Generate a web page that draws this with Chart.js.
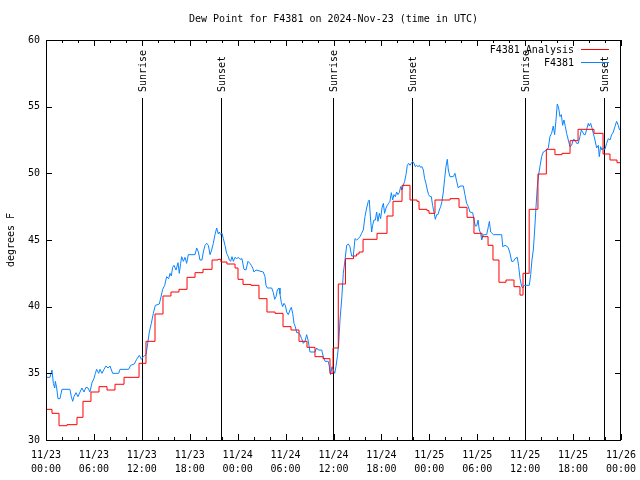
<!DOCTYPE html>
<html><head><meta charset="utf-8">
<script src="https://cdn.jsdelivr.net/npm/chart.js@4"></script>
<style>html,body{margin:0;padding:0;background:#fff}</style>
</head><body>
<canvas id="c" width="640" height="480"></canvas>
<script>
const titleText = 'Dew Point for F4381 on 2024-Nov-23 (time in UTC)';
const yAxisTitle = 'degrees F';
const seriesNames = ['F4381 Analysis', 'F4381'];
const xTickHours = [0, 6, 12, 18, 24, 30, 36, 42, 48, 54, 60, 66, 72];
const xTickDates = ['11/23','11/23','11/23','11/23','11/24','11/24','11/24','11/24','11/25','11/25','11/25','11/25','11/26'];
const xTickTimes = ['00:00','06:00','12:00','18:00','00:00','06:00','12:00','18:00','00:00','06:00','12:00','18:00','00:00'];
const yTickValues = [30, 35, 40, 45, 50, 55, 60];
const sunriseHours = [11.98, 35.98, 59.98];
const sunsetHours = [21.95, 45.87, 69.91];

// F4381 Analysis: [hours since 11/23 00:00 UTC, dew point F] (stepped)
const analysisPoints = [
[0,32.2],[0.75,32.3],[1.63,32.0],[2.63,31.07],[3.88,31.15],[4.63,31.7],[5.63,32.9],[6.64,33.6],[7.64,34.0],[8.64,33.75],
[9.77,34.18],[11.65,34.7],[12.52,35.75],[13.65,37.4],[14.65,39.45],[15.65,40.8],[16.65,41.1],[17.66,41.3],[18.66,42.2],[19.66,42.55],
[20.79,42.8],[21.54,43.5],[21.91,43.55],[22.66,43.35],[23.67,43.2],[24.04,42.9],[24.67,42.05],[25.67,41.67],[26.67,41.6],[27.67,40.6],
[28.68,39.6],[29.68,39.5],[30.68,38.5],[31.68,38.25],[32.68,37.4],[33.68,36.95],[34.69,36.25],[35.56,36.1],[35.94,35.0],[36.6,36.9],
[37.5,41.7],[38.5,43.6],[38.9,43.8],[39.2,43.95],[39.7,44.1],[41.45,45.05],[42.7,45.5],[43.45,46.8],[44.58,47.9],[45.58,49.1],
[46.46,48.0],[46.71,47.9],[47.71,47.3],[47.96,47.2],[48.71,47.0],[50.59,48.0],[51.72,48.1],[52.72,47.45],[53.59,46.7],[54.6,45.5],
[55.35,45.25],[55.97,44.6],[56.72,43.5],[57.6,41.83],[58.6,42.0],[59.35,41.5],[59.73,40.87],[60.5,42.5],[61.6,47.3],[62.65,49.95],
[63.73,51.8],[64.61,51.4],[65.62,51.5],[66.62,52.45],[68.62,53.3],[69.75,53.0],[70.62,51.45],[71.5,51.0],[71.75,50.8],[72,50.8]
];

// F4381 observations: [hours since 11/23 00:00 UTC, dew point F]
const observationPoints = [
[0,34.7],[0.5,34.7],[0.75,35.25],[0.92,34.25],[1.09,33.9],[1.17,34.4],[1.34,33.9],[1.5,33.1],[1.75,33.1],[2.0,33.8],
[3.0,33.8],[3.17,33.25],[3.34,32.9],[3.5,33.25],[3.76,33.55],[4.0,33.25],[4.26,33.6],[4.5,33.9],[4.76,33.6],[5.0,33.95],
[5.26,33.9],[5.5,33.6],[5.76,34.3],[6.0,34.6],[6.18,35.0],[6.34,35.3],[6.6,35.0],[6.76,35.3],[7.01,35.0],[7.26,35.3],
[7.51,35.55],[7.76,35.4],[8.01,35.55],[8.35,35.0],[9.1,35.0],[9.27,35.3],[10.35,35.3],[10.6,35.6],[11.06,35.7],[11.35,36.05],
[11.69,36.35],[11.94,36.05],[12.19,36.25],[12.52,36.4],[12.69,37.05],[12.94,38.1],[13.19,38.75],[13.44,39.5],[13.69,40.1],[14.19,40.2],
[14.4,40.75],[14.61,41.3],[14.86,41.6],[15.11,42.25],[15.36,42.1],[15.53,42.5],[15.69,42.3],[15.86,42.95],[16.03,43.1],[16.28,42.75],
[16.53,43.3],[16.69,42.5],[16.86,43.25],[16.99,43.75],[17.2,43.4],[17.41,43.7],[17.61,43.25],[17.82,43.9],[18.66,43.9],[18.87,44.4],
[19.08,44.1],[19.28,43.5],[19.53,43.5],[19.7,44.1],[19.91,44.6],[20.12,44.75],[20.33,44.6],[20.54,43.9],[20.74,44.25],[20.95,44.75],
[21.16,45.4],[21.37,45.9],[21.58,45.45],[21.7,45.6],[21.87,45.4],[22.04,45.5],[22.21,45.1],[22.41,44.6],[22.62,44.0],[22.83,43.75],
[22.96,43.5],[23.12,43.4],[23.29,43.75],[23.46,43.4],[23.67,43.7],[23.88,43.6],[24.08,43.7],[24.29,43.55],[24.54,43.6],[24.79,42.8],
[25.04,42.75],[25.29,43.4],[25.54,43.25],[25.71,43.1],[25.88,42.9],[26.05,42.6],[26.3,42.75],[27.21,42.6],[27.42,42.25],[27.55,41.6],
[27.71,41.4],[28.26,41.4],[28.47,41.05],[28.63,40.55],[28.8,40.75],[28.97,41.25],[29.18,41.4],[29.3,40.95],[29.47,40.3],[29.63,40.0],
[29.8,40.25],[29.97,40.1],[30.14,39.6],[30.34,39.4],[30.55,39.75],[30.72,39.95],[30.89,39.5],[31.05,38.75],[31.22,38.5],[31.39,38.05],
[31.6,38.05],[31.81,37.9],[32.01,37.6],[32.22,37.25],[32.43,37.4],[32.64,37.9],[32.81,37.5],[33.06,36.6],[33.68,36.6],[33.89,36.9],
[34.1,36.75],[34.52,36.75],[34.73,36.25],[34.94,35.9],[35.35,35.9],[35.48,35.5],[35.64,34.9],[35.81,35.5],[35.98,35.25],[36.15,35.0],
[36.31,35.5],[36.48,36.25],[36.65,37.2],[36.81,39.0],[37.02,40.5],[37.23,42.5],[37.44,43.5],[37.65,44.6],[37.86,44.7],[38.06,44.5],
[38.27,43.8],[38.48,43.8],[38.69,45.1],[38.9,45.0],[39.11,45.1],[39.32,45.25],[39.52,45.5],[39.73,45.75],[39.94,46.75],[40.15,47.4],
[40.36,47.9],[40.48,48.0],[40.65,46.5],[40.78,45.6],[40.9,46.1],[41.07,46.5],[41.24,46.5],[41.4,47.1],[41.57,46.4],[41.74,47.0],
[41.9,46.6],[42.07,47.4],[42.24,47.75],[42.4,47.0],[42.57,47.4],[42.74,47.6],[42.91,47.75],[43.07,47.9],[43.24,48.55],[43.41,48.0],
[43.57,48.4],[43.74,48.25],[43.91,48.6],[44.07,48.4],[44.24,48.55],[44.41,49.0],[44.58,48.75],[44.74,49.1],[44.91,49.4],[45.08,49.9],
[45.24,50.6],[45.41,50.75],[45.58,50.6],[45.74,50.75],[45.91,50.9],[46.08,50.75],[46.24,50.5],[46.41,50.6],[46.58,50.5],[46.75,50.6],
[46.91,50.45],[47.08,50.5],[47.25,50.25],[47.41,49.6],[47.58,49.25],[47.75,48.75],[47.91,48.4],[48.08,48.25],[48.25,48.25],[48.41,47.6],
[48.58,47.1],[48.75,46.55],[48.92,46.9],[49.08,46.9],[49.25,47.25],[49.42,47.5],[49.58,47.9],[49.75,48.6],[49.92,49.6],[50.08,50.5],
[50.25,51.05],[50.38,50.25],[50.58,49.75],[51.0,49.75],[51.21,50.0],[51.42,49.4],[51.63,48.9],[51.84,49.05],[52.26,49.05],[52.46,48.4],
[52.67,47.75],[52.88,47.5],[53.09,47.1],[53.43,47.05],[53.6,46.5],[53.76,46.05],[53.93,46.05],[54.1,46.5],[54.26,45.75],[54.43,45.5],
[54.56,45.0],[54.77,45.4],[55.18,45.4],[55.39,46.0],[55.52,46.4],[55.68,45.6],[56.02,45.4],[57.06,45.4],[57.19,44.5],[57.48,44.6],
[57.69,44.55],[57.9,44.4],[58.1,44.0],[58.31,43.4],[58.52,43.4],[58.73,43.6],[59.02,43.7],[59.19,43.0],[59.36,42.1],[59.57,41.5],
[59.69,41.4],[59.86,41.6],[60.52,41.6],[60.69,42.4],[60.85,43.5],[61.02,44.25],[61.19,45.75],[61.35,47.4],[61.52,49.0],[61.69,49.9],
[61.85,50.5],[62.06,51.25],[62.27,51.6],[62.69,51.75],[62.9,51.9],[63.1,52.75],[63.31,53.0],[63.52,53.55],[63.69,52.9],[63.86,54.0],
[64.02,55.2],[64.19,54.9],[64.36,54.25],[64.53,54.4],[64.69,53.6],[64.86,54.0],[65.03,53.5],[65.19,53.0],[65.4,52.5],[65.61,52.0],
[65.82,52.1],[66.03,52.55],[66.24,52.5],[66.45,52.25],[66.65,52.25],[66.86,52.75],[67.03,53.25],[67.2,53.1],[67.36,52.9],[67.53,52.9],
[67.7,53.3],[67.91,53.75],[68.03,53.55],[68.2,53.75],[68.37,53.4],[68.53,53.0],[68.74,52.5],[68.95,51.9],[69.16,52.1],[69.28,51.25],
[69.45,52.0],[69.62,51.75],[69.78,51.9],[69.99,51.8],[70.2,52.25],[70.41,52.6],[70.62,52.5],[70.83,52.9],[71.04,53.1],[71.24,53.5],
[71.45,53.9],[71.66,53.6],[71.79,53.3],[71.87,53.25]
];

const seriesColors = ['#ff0000', '#0a84ff'];
const FONT = '"DejaVu Sans Mono", "Liberation Mono", monospace';

const decorations = {
  id: 'decorations',
  beforeDatasetsDraw(chart) {
    const {ctx, chartArea: a, scales: {x}} = chart;
    ctx.save();
    ctx.strokeStyle = '#000';
    ctx.lineWidth = 1;
    ctx.fillStyle = '#000';
    ctx.font = '10px ' + FONT;
    const marks = sunriseHours.map(h => [h, 'Sunrise']).concat(sunsetHours.map(h => [h, 'Sunset']));
    marks.forEach(([h, label]) => {
      const px = Math.round(x.getPixelForValue(h)) + 0.5;
      ctx.beginPath();
      ctx.moveTo(px, 98);
      ctx.lineTo(px, a.bottom);
      ctx.stroke();
      ctx.save();
      ctx.translate(px + 1, 92);
      ctx.rotate(-Math.PI / 2);
      ctx.textAlign = 'left';
      ctx.textBaseline = 'middle';
      ctx.fillText(label, 0, 0);
      ctx.restore();
    });
    ctx.restore();
  },
  afterDraw(chart) {
    const {ctx, chartArea: a, scales: {x, y}} = chart;
    ctx.save();
    ctx.strokeStyle = '#000';
    ctx.lineWidth = 1;
    ctx.strokeRect(a.left + 0.5, a.top + 0.5, a.right - a.left - 1, a.bottom - a.top);
    ctx.beginPath();
    for (let h = 0; h <= 72; h += 2) {
      const px = Math.round(x.getPixelForValue(h)) + 0.5;
      const len = (h % 6 === 0) ? 6 : 3;
      ctx.moveTo(px, a.bottom); ctx.lineTo(px, a.bottom - len);
      ctx.moveTo(px, a.top); ctx.lineTo(px, a.top + len);
    }
    yTickValues.forEach(v => {
      const py = Math.round(y.getPixelForValue(v)) + 0.5;
      ctx.moveTo(a.left, py); ctx.lineTo(a.left + 6, py);
      ctx.moveTo(a.right, py); ctx.lineTo(a.right - 6, py);
    });
    ctx.stroke();
    // legend
    ctx.font = '10px ' + FONT;
    ctx.fillStyle = '#000';
    ctx.textAlign = 'right';
    ctx.textBaseline = 'middle';
    const rows = [[seriesNames[0], seriesColors[0], 50], [seriesNames[1], seriesColors[1], 63]];
    rows.forEach(([name, col, ty]) => {
      ctx.fillText(name, 574, ty);
      ctx.strokeStyle = col;
      ctx.beginPath();
      ctx.moveTo(581, ty - 0.5); ctx.lineTo(609, ty - 0.5);
      ctx.stroke();
    });
    ctx.restore();
  }
};

new Chart(document.getElementById('c'), {
  type: 'line',
  data: {
    datasets: [
      {
        label: seriesNames[0],
        data: analysisPoints.map(p => ({x: p[0], y: p[1]})),
        borderColor: seriesColors[0],
        borderWidth: 1,
        pointRadius: 0,
        stepped: 'after',
        tension: 0,
        fill: false
      },
      {
        label: seriesNames[1],
        data: observationPoints.map(p => ({x: p[0], y: p[1]})),
        borderColor: seriesColors[1],
        borderWidth: 1,
        pointRadius: 0,
        tension: 0,
        fill: false
      }
    ]
  },
  options: {
    responsive: false,
    animation: false,
    devicePixelRatio: 1,
    layout: {padding: {left: 0, right: 19, top: 0, bottom: 0}},
    plugins: {
      legend: {display: false},
      tooltip: {enabled: false},
      title: {
        display: true,
        fullSize: false,
        text: titleText,
        color: '#000',
        font: {family: FONT, size: 10, weight: 'normal', lineHeight: 1.2},
        padding: {top: 13, bottom: 15}
      }
    },
    scales: {
      x: {
        type: 'linear',
        min: 0,
        max: 72,
        afterFit: s => { s.height = 40; s.paddingLeft = 0; s.paddingRight = 0; },
        afterBuildTicks: s => { s.ticks = xTickHours.map(v => ({value: v})); },
        grid: {display: false, drawTicks: false},
        border: {display: false},
        ticks: {
          autoSkip: false,
          maxRotation: 0,
          color: '#000',
          padding: 8,
          font: {family: FONT, size: 10, lineHeight: '14px'},
          callback: (v) => { const i = xTickHours.indexOf(v); return i >= 0 ? [xTickDates[i], xTickTimes[i]] : ''; }
        }
      },
      y: {
        min: 30,
        max: 60,
        afterFit: s => { s.width = 46; s.paddingTop = 0; s.paddingBottom = 0; },
        afterBuildTicks: s => { s.ticks = yTickValues.map(v => ({value: v})); },
        grid: {display: false, drawTicks: false},
        border: {display: false},
        ticks: {
          color: '#000',
          padding: 6,
          font: {family: FONT, size: 10},
          callback: v => String(v)
        },
        title: {
          display: true,
          text: yAxisTitle,
          color: '#000',
          font: {family: FONT, size: 10},
          padding: {top: 5, bottom: 0}
        }
      }
    }
  },
  plugins: [decorations]
});
</script>
</body></html>
